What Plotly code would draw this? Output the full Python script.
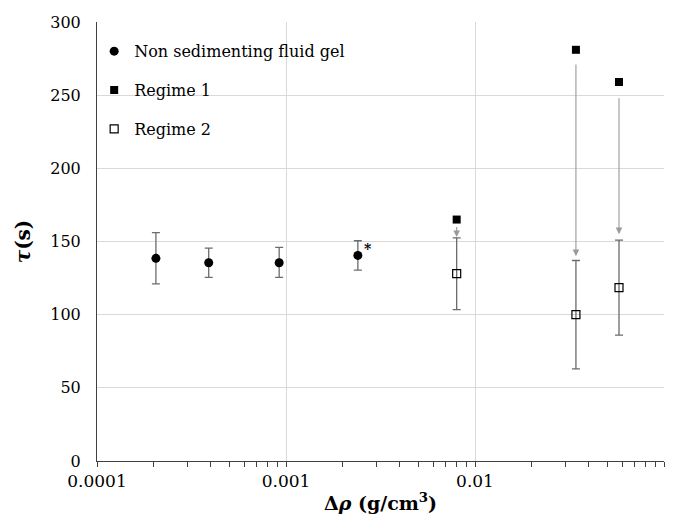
import numpy as np
import plotly.graph_objects as go

# Data
ns_x = [0.000205, 0.00039, 0.00092, 0.0024]
ns_y = [138.5, 135.5, 135.5, 140.5]
ns_err_plus = [17.5, 10, 10.5, 10]
ns_err_minus = [17.5, 10, 10, 10]

r1_x = [0.0080, 0.0342, 0.0578]
r1_y = [165, 281, 259]

r2_x = [0.0080, 0.0342, 0.0578]
r2_y = [128, 100, 118.5]
r2_err_plus = [24.5, 37, 32.5]
r2_err_minus = [24.5, 37, 32.5]

# arrow start/end (tau values)
arrow_start = [161, 272, 249]
arrow_end = [153, 140, 155]

x_ticks = [0.0001, 0.001, 0.01, 0.1]
x_ticklabels = ["0.0001", "0.001", "0.01", "0.1"]
x_minor = [m * d for d in [0.0001, 0.001, 0.01] for m in range(2, 10)]

font_family = "DejaVu Serif"
err_col = "#6b6b6b"

fig = go.Figure()
fig.add_trace(go.Scatter(
    x=ns_x, y=ns_y, mode="markers", name="Non sedimenting fluid gel", legendgroup="a",
    marker=dict(symbol="circle", size=9, color="black"),
    error_y=dict(type="data", symmetric=False, array=ns_err_plus, arrayminus=ns_err_minus,
                 color=err_col, thickness=1.3, width=4),
))
fig.add_trace(go.Scatter(
    x=r1_x, y=r1_y, mode="markers", name="Regime 1", legendgroup="b",
    marker=dict(symbol="square", size=8, color="black"),
))
fig.add_trace(go.Scatter(
    x=r2_x, y=r2_y, mode="markers", name="Regime 2", legendgroup="c",
    marker=dict(symbol="square-open", size=8, color="black", line=dict(width=1.2)),
    error_y=dict(type="data", symmetric=False, array=r2_err_plus, arrayminus=r2_err_minus,
                 color=err_col, thickness=1.3, width=4),
))

for xv, ys, ye in zip(r1_x, arrow_start, arrow_end):
    fig.add_annotation(
        x=np.log10(xv), y=ye, ax=np.log10(xv), ay=ys,
        xref="x", yref="y", axref="x", ayref="y",
        showarrow=True, arrowhead=2, arrowsize=1.2, arrowwidth=1.1,
        arrowcolor="#9a9a9a", text="",
    )

fig.add_annotation(x=np.log10(ns_x[3]), y=ns_y[3], xref="x", yref="y",
                   text="<b>*</b>", showarrow=False, xshift=10, yshift=6,
                   font=dict(family=font_family, size=14, color="black"))

fig.update_layout(
    width=676, height=524,
    margin=dict(l=97, r=12, t=22, b=63),
    paper_bgcolor="white", plot_bgcolor="white",
    font=dict(family=font_family, size=15, color="black"),
    showlegend=True,
    legend=dict(x=-0.005, y=0.972, xanchor="left", yanchor="top",
                bgcolor="rgba(0,0,0,0)", font=dict(size=16, family=font_family),
                itemsizing="trace", tracegroupgap=15, itemwidth=30),
    xaxis=dict(
        type="log", range=[-4, -1],
        tickvals=x_ticks, ticktext=x_ticklabels,
        showgrid=True, gridcolor="#d9d9d9", gridwidth=1,
        showline=True, linecolor="#404040", linewidth=1,
        ticks="outside", ticklen=5, tickcolor="#404040",
        minor=dict(tickmode="array", tickvals=x_minor, ticks="outside", ticklen=5,
                   tickcolor="#404040", showgrid=False),
        tickfont=dict(size=17, family=font_family),
        title=dict(text="<b>Δ<i>ρ</i> (g/cm<sup>3</sup>)</b>", font=dict(size=19, family=font_family), standoff=6),
        zeroline=False, automargin=False,
    ),
    yaxis=dict(
        range=[0, 300], dtick=50,
        showgrid=True, gridcolor="#d9d9d9", gridwidth=1,
        showline=True, linecolor="#404040", linewidth=1,
        ticks="", tickfont=dict(size=16, family=font_family), ticklabelstandoff=12,
        title=dict(text="<b><i>τ</i>(s)</b>", font=dict(size=20, family=font_family), standoff=14),
        zeroline=False,
    ),
)

fig.write_html("out.html")
